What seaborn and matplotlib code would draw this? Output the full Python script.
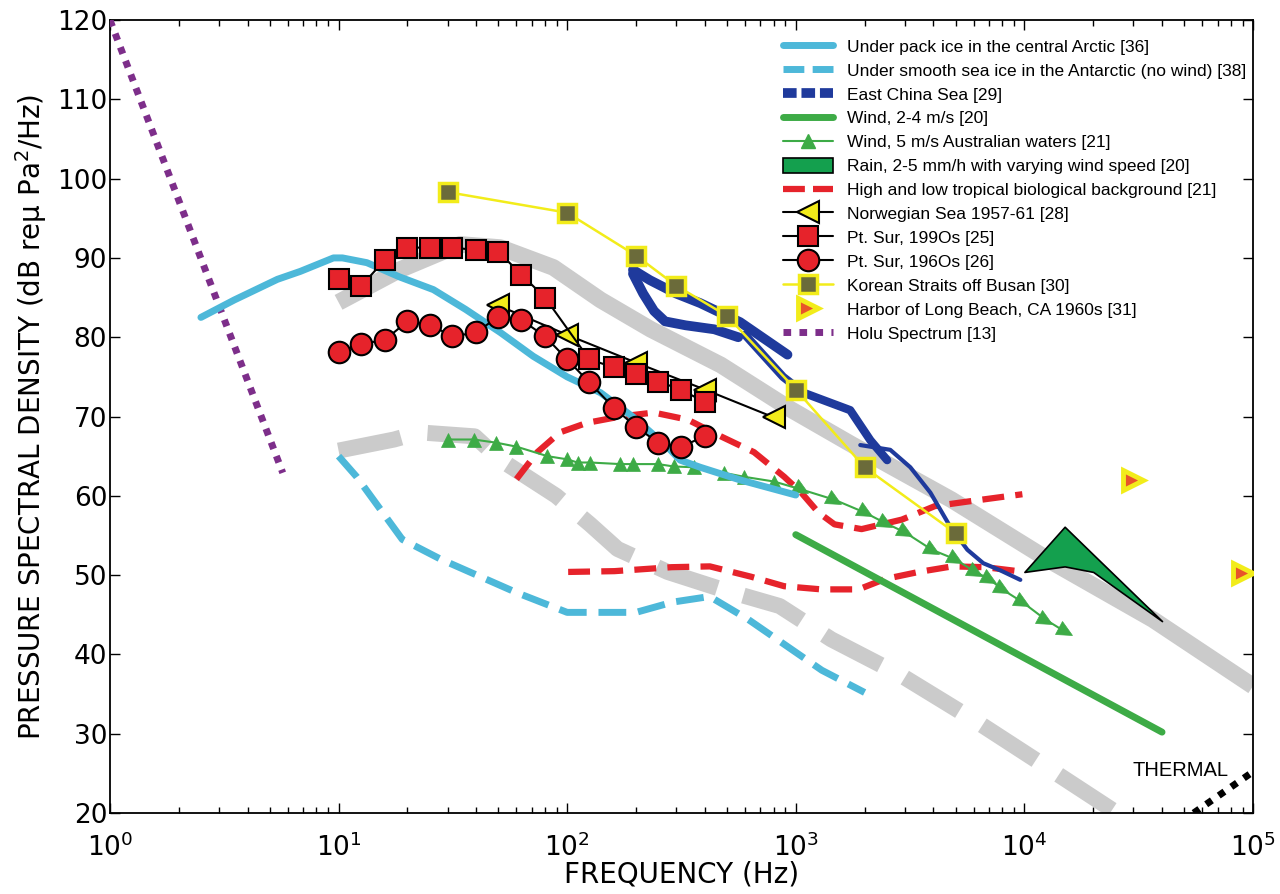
import numpy as np
import seaborn as sns
import matplotlib.pyplot as plt
from matplotlib.lines import Line2D
from matplotlib.patches import Patch
from matplotlib.markers import MarkerStyle
from matplotlib.transforms import Affine2D
from matplotlib.ticker import LogLocator, NullFormatter

# ---- data (frequency in Hz, level in dB) ----
gray_hi_f = [10, 18.5, 34, 51, 87, 140, 232, 470, 950, 1750, 4800, 13300, 36500, 100000]
gray_hi_db = [84.4, 88.5, 91.7, 91.3, 88.8, 84.7, 81.0, 76.5, 70.9, 66.5, 59.5, 51.6, 44.4, 36.0]

gray_lo_f = [10, 17.5, 22.6, 39.4, 50.7, 89.5, 126, 166, 275, 475, 850, 1430, 2910, 6200, 13300, 25100, 32000]
gray_lo_db = [65.7, 67.1, 68.0, 67.5, 64.6, 60.0, 56.4, 53.3, 50.4, 48.2, 46.1, 41.9, 37.3, 31.5, 25.3, 20.1, 17.5]

holu_f = [1, 5.7]
holu_db = [120, 62.9]

pack_f = [2.5, 3.5, 5.4, 6.8, 9.5, 10.4, 13.3, 18.5, 26, 36, 51, 71, 100, 140, 195, 274, 312, 382, 571, 1000]
pack_db = [82.5, 84.7, 87.3, 88.3, 90.0, 90.0, 89.4, 87.6, 86.0, 83.5, 80.6, 77.6, 75.0, 73.0, 69.9, 66.2, 64.5, 63.6, 62.0, 60.1]

smooth_f = [10, 12, 19, 28, 60, 100, 200, 290, 420, 620, 1300, 2000]
smooth_db = [65.0, 62.4, 54.5, 52.0, 47.8, 45.3, 45.3, 46.6, 47.3, 44.4, 38.0, 35.2]

ecs_a_f = [194, 230, 300, 382, 571, 920]
ecs_a_db = [88.5, 87.2, 85.5, 84.3, 81.9, 77.8]
ecs_b_f = [194, 215, 240, 268, 330, 440, 560]
ecs_b_db = [88.0, 85.5, 83.3, 82.0, 81.5, 81.0, 80.0]
ecs_c_f = [600, 880, 1080, 1730, 2120, 2510]
ecs_c_db = [80.3, 75.0, 73.0, 70.8, 67.0, 64.5]
ecs_d_f = [1915, 2590, 3170, 3880, 4740, 5630, 6610, 7850, 9600]
ecs_d_db = [66.4, 65.8, 63.6, 60.4, 56.1, 53.2, 51.5, 50.6, 49.4]

wind24_f = [1000, 40000]
wind24_db = [55.1, 30.2]

wind5_f = [30, 39, 49, 60, 82, 100, 111, 126, 171, 195, 250, 292, 358, 485, 594, 804,
           1057, 1477, 2000, 2450, 3000, 3940, 4980, 6100, 7020, 8000, 9800, 12360, 15000]
wind5_db = [67.1, 67.1, 66.7, 66.2, 65.0, 64.6, 64.2, 64.2, 64.0, 64.0, 64.0, 63.7, 63.6, 62.9, 62.4, 61.8,
            60.8, 59.5, 57.9, 56.6, 55.4, 53.2, 52.0, 50.4, 49.5, 48.2, 46.6, 44.4, 42.9]

rain_f = [10000, 15000, 20000, 40000]
rain_hi = [50.4, 56.1, 52.6, 44.2]
rain_lo = [50.4, 51.1, 50.4, 44.2]

bio_hi_f = [60, 74, 93, 122, 171, 239, 337, 470, 657, 890, 1057, 1256, 1477, 1940, 2910, 4060, 5730, 9800]
bio_hi_db = [62.1, 65.5, 68.0, 69.2, 70.0, 70.5, 69.6, 67.5, 65.5, 62.4, 60.4, 57.9, 56.4, 55.8, 57.0, 58.7, 59.3, 60.2]
bio_lo_f = [101, 161, 287, 421, 637, 890, 1295, 1883, 2450, 3450, 4830, 6740, 10000]
bio_lo_db = [50.4, 50.5, 51.0, 51.1, 49.8, 48.6, 48.2, 48.2, 49.5, 50.4, 51.1, 51.0, 50.4]

norw_f = [50, 100, 200, 400, 800]
norw_db = [84.0, 80.3, 76.8, 73.4, 69.9]

sur90_f = [10, 12.5, 16, 20, 25, 31.5, 40, 50, 63, 80, 125, 160, 200, 250, 315, 400]
sur90_db = [87.3, 86.4, 89.8, 91.3, 91.3, 91.3, 91.0, 90.8, 87.9, 85.0, 77.2, 76.2, 75.3, 74.4, 73.4, 71.8]

sur60_f = [10, 12.5, 16, 20, 25, 31.5, 40, 50, 63, 80, 100, 125, 160, 200, 250, 315, 400]
sur60_db = [78.1, 79.1, 79.7, 82.0, 81.6, 80.1, 80.6, 82.6, 82.2, 80.1, 77.2, 74.3, 71.1, 68.7, 66.7, 66.2, 67.5]

korea_f = [30, 100, 200, 300, 500, 1000, 2000, 5000]
korea_db = [98.3, 95.7, 90.3, 86.5, 82.7, 73.4, 63.6, 55.3]

harbor_f = [30000, 90000]
harbor_db = [62.0, 50.3]

thermal_f = [55000, 100000]
thermal_db = [20.0, 25.2]

labels = [
    "Under pack ice in the central Arctic [36]",
    "Under smooth sea ice in the Antarctic (no wind) [38]",
    "East China Sea [29]",
    "Wind, 2-4 m/s [20]",
    "Wind, 5 m/s Australian waters [21]",
    "Rain, 2-5 mm/h with varying wind speed [20]",
    "High and low tropical biological background [21]",
    "Norwegian Sea 1957-61 [28]",
    "Pt. Sur, 199Os [25]",
    "Pt. Sur, 196Os [26]",
    "Korean Straits off Busan [30]",
    "Harbor of Long Beach, CA 1960s [31]",
    "Holu Spectrum [13]",
]

GRAY = "#cbcbcb"
CYAN = "#4db8d9"
BLUE = "#1f3a9c"
GREEN = "#3dab46"
RAIN = "#14a04e"
RED = "#e6232b"
YELLOW = "#f2ec1a"
OLIVE = "#6b6b3a"
ORANGE = "#e8542a"
PURPLE = "#7d2e8a"

sns.set_theme(style="ticks")
plt.rcParams["font.family"] = ["DejaVu Sans"]
plt.rcParams.update({
    "xtick.direction": "in", "ytick.direction": "in",
    "xtick.top": True, "ytick.right": True,
    "text.color": "black", "axes.labelcolor": "black",
    "xtick.color": "black", "ytick.color": "black",
    "axes.edgecolor": "black", "axes.linewidth": 1.3,
})

fig = plt.figure(figsize=(12.8, 8.94), dpi=100)
ax = fig.add_axes([0.0859, 0.0906, 0.893, 0.887])
ax.set_xscale("log")


def curve(f, db, **kw):
    sns.lineplot(x=f, y=db, ax=ax, sort=False, estimator=None, legend=False, **kw)


curve(gray_hi_f, gray_hi_db, color=GRAY, lw=12, solid_capstyle="butt", zorder=1)
curve(gray_lo_f, gray_lo_db, color=GRAY, lw=11.5, linestyle=(0, (4, 1.7)), zorder=1)

curve(holu_f, holu_db, color=PURPLE, lw=5, linestyle=(0, (1, 1.1)), zorder=3)
curve(thermal_f, thermal_db, color="black", lw=5, linestyle=(0, (1, 1.2)), zorder=3)

curve(smooth_f, smooth_db, color=CYAN, lw=5, linestyle=(0, (4, 1.7)), zorder=2)
curve(bio_hi_f, bio_hi_db, color=RED, lw=4.5, linestyle=(0, (3.5, 1.8)), zorder=3)
curve(bio_lo_f, bio_lo_db, color=RED, lw=4.5, linestyle=(0, (3.5, 1.8)), zorder=3)
curve(wind24_f, wind24_db, color=GREEN, lw=5, zorder=3)

ax.fill_between(rain_f, rain_lo, rain_hi, facecolor=RAIN, edgecolor="black", lw=1.2, zorder=4)

curve(wind5_f, wind5_db, color=GREEN, lw=1.5, zorder=4)
curve(wind5_f[:16], wind5_db[:16], color=GREEN, linestyle="none", marker="^", ms=10,
      mfc=GREEN, mec=GREEN, mew=0.5, zorder=4)
tri_down = MarkerStyle(">", transform=Affine2D().rotate_deg(-30))
curve(wind5_f[16:], wind5_db[16:], color=GREEN, linestyle="none", marker=tri_down, ms=11,
      mfc=GREEN, mec=GREEN, mew=0.5, zorder=4)

curve(pack_f, pack_db, color=CYAN, lw=5, zorder=4)

curve(ecs_a_f, ecs_a_db, color=BLUE, lw=7, zorder=5)
curve(ecs_b_f, ecs_b_db, color=BLUE, lw=7, zorder=5)
curve(ecs_c_f, ecs_c_db, color=BLUE, lw=6, zorder=5)
curve(ecs_d_f, ecs_d_db, color=BLUE, lw=3, zorder=5)

curve(norw_f, norw_db, color="black", lw=1.5, marker="<", ms=16, mfc=YELLOW, mec="black", mew=1.5, zorder=6)
curve(sur90_f, sur90_db, color="black", lw=1.5, marker="s", ms=14, mfc=RED, mec="black", mew=1.5, zorder=6)
curve(sur60_f, sur60_db, color="black", lw=1.5, marker="o", ms=15.5, mfc=RED, mec="black", mew=1.5, zorder=6)
curve(korea_f, korea_db, color=YELLOW, lw=1.8, marker="s", ms=13, mfc=OLIVE, mec=YELLOW, mew=2.5, zorder=7)
curve(harbor_f, harbor_db, linestyle="none", marker=">", ms=15, mfc=ORANGE, mec=YELLOW, mew=3.5, zorder=7)

ax.text(29800, 25.3, "THERMAL", family="Liberation Sans", fontsize=14.5, va="center", ha="left")

ax.set_xlim(1, 1e5)
ax.set_ylim(20, 120)
ax.set_yticks(range(20, 121, 10))
ax.xaxis.set_major_locator(LogLocator(base=10, numticks=10))
ax.xaxis.set_minor_locator(LogLocator(base=10, subs=np.arange(2, 10), numticks=100))
ax.xaxis.set_minor_formatter(NullFormatter())
ax.tick_params(which="major", length=7, width=1, labelsize=19)
ax.tick_params(axis="y", pad=2)
ax.tick_params(axis="x", pad=15)
ax.tick_params(which="minor", length=4, width=1)
ax.set_xlabel("FREQUENCY (Hz)", fontsize=20, labelpad=-1)
ax.set_ylabel("PRESSURE SPECTRAL DENSITY (dB re\u03bc Pa$^2$/Hz)", fontsize=20, labelpad=6)

handles = [
    Line2D([], [], color=CYAN, lw=5),
    Line2D([], [], color=CYAN, lw=5, linestyle=(0, (3, 1.2))),
    Line2D([], [], color=BLUE, lw=7, linestyle=(0, (1.4, 0.5))),
    Line2D([], [], color=GREEN, lw=5),
    Line2D([], [], color=GREEN, lw=1.5, marker="^", ms=10, mfc=GREEN, mec=GREEN),
    Patch(facecolor=RAIN, edgecolor="black", lw=1.2),
    Line2D([], [], color=RED, lw=4.5, linestyle=(0, (3.5, 1.3))),
    Line2D([], [], color="black", lw=1.5, marker="<", ms=16, mfc=YELLOW, mec="black", mew=1.5),
    Line2D([], [], color="black", lw=1.5, marker="s", ms=14, mfc=RED, mec="black", mew=1.5),
    Line2D([], [], color="black", lw=1.5, marker="o", ms=15.5, mfc=RED, mec="black", mew=1.5),
    Line2D([], [], color=YELLOW, lw=1.8, marker="s", ms=13, mfc=OLIVE, mec=YELLOW, mew=2.5),
    Line2D([], [], linestyle="none", marker=">", ms=15, mfc=ORANGE, mec=YELLOW, mew=3.5),
    Line2D([], [], color=PURPLE, lw=5, linestyle=(0, (1.1, 1.2))),
]
ax.legend(handles, labels, loc="upper left", bbox_to_anchor=(0.589, 0.977), frameon=False,
          prop={"family": "Liberation Sans", "size": 12.5}, handlelength=2.88, handletextpad=0.8,
          labelspacing=0.43, borderpad=0, borderaxespad=0, handleheight=0.95, numpoints=1)

fig.savefig("out.png", dpi=100)
